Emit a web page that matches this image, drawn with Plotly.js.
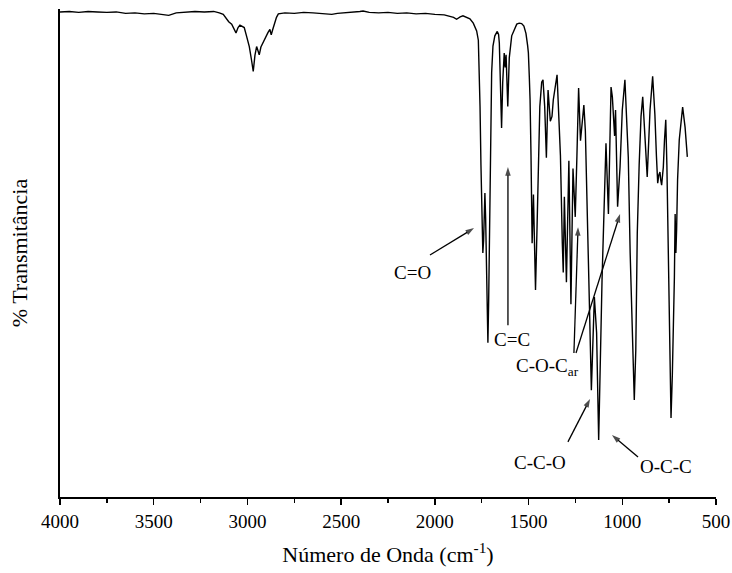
<!DOCTYPE html>
<html>
<head>
<meta charset="utf-8">
<script src="https://cdn.plot.ly/plotly-3.0.1.min.js"></script>
<style>html,body{margin:0;padding:0;background:#fff}#chart{width:732px;height:573px}</style>
</head>
<body>
<div id="chart"></div>
<script>
// Wavenumber (cm-1), descending
const waveNumber = [
4000,3950,3900,3850,3800,3750,3700,3650,3600,3550,3500,3450,3420,3380,3330,3280,3230,3180,3150,3129,
3100,3084,3061,3050,3040,3028,3017,3005,2990,2978,2969,2960,2951,2944,2937,2928,2919,2901,2890,2880,
2873,2865,2858,2845,2835,2800,2750,2700,2650,2600,2550,2520,2480,2440,2400,2383,2350,2300,2250,2200,
2150,2100,2050,2000,1950,1920,1900,1884,1865,1850,1830,1813,1795,1785,1777,1768,1763,1759,1754,1748,
1744,1740,1736,1733,1729,1725,1720,1717,1713,1709,1705,1700,1697,1690,1680,1667,1660,1656,1650,1644,
1638,1630,1625,1620,1611,1603,1590,1581,1563,1550,1537,1525,1514,1505,1501,1496,1492,1487,1481,1474,
1463,1455,1448,1440,1430,1423,1414,1405,1396,1384,1375,1368,1348,1340,1330,1320,1315,1309,1298,1285,
1274,1263,1251,1242,1233,1223,1205,1197,1190,1182,1176,1165,1149,1137,1126,1108,1087,1074,1060,1053,
1046,1041,1036,1030,1025,1012,1000,986,968,958,950,936,928,920,910,900,891,879,867,860,
852,838,826,818,811,805,799,795,790,785,781,775,768,762,758,749,740,733,728,722,
718,714,710,705,696,678,665,653
];
// % Transmittance (arbitrary units)
const transmittance = [
99.4,99.5,99.3,99.5,99.4,99.3,99.4,99.1,99.2,99.0,99.1,98.8,98.7,99.2,99.3,99.5,99.4,99.5,99.2,98.9,
97.4,96.9,95.1,96.2,96.7,96.5,96.2,94.5,92.3,89.5,87.2,90.5,92.3,91.5,90.6,92.2,93.0,94.3,95.2,95.8,
94.7,95.8,96.7,98.3,99.0,99.2,99.1,99.3,99.2,99.0,98.9,99.1,99.2,99.4,99.5,99.6,99.3,99.2,99.3,99.1,
99.2,99.0,99.1,98.9,98.8,98.5,98.3,97.9,98.4,98.6,98.3,98.0,97.1,96.3,95.5,93.6,88.0,80.0,68.0,54.0,
50.0,52.5,58.0,62.3,57.0,48.0,38.0,31.6,40.0,55.0,71.0,82.0,87.0,92.4,94.5,95.4,94.8,93.0,86.0,75.6,
85.0,91.0,88.0,90.6,80.0,90.0,94.5,95.2,96.9,97.1,97.0,96.5,95.0,92.5,91.0,86.0,81.4,70.0,52.0,62.0,
42.4,55.0,67.6,80.0,85.0,85.5,80.0,69.5,83.4,77.0,78.0,81.4,86.5,80.0,70.0,52.0,46.0,61.5,44.0,68.9,
39.5,67.3,57.4,70.0,83.8,73.0,80.3,75.0,62.0,45.0,40.4,21.9,41.0,33.6,11.7,44.5,72.5,58.0,84.0,82.0,
76.0,74.0,79.3,70.0,59.5,67.6,79.3,85.5,69.7,50.0,36.9,19.9,30.0,54.1,68.0,78.0,82.0,74.8,65.6,72.0,
79.3,86.2,78.3,70.0,64.3,66.0,66.6,65.0,63.9,66.0,67.6,73.0,77.3,68.0,58.8,33.6,16.2,25.0,33.6,45.0,
58.0,50.0,55.0,65.0,73.2,79.9,75.8,69.7
];
// x-axis ticks
const tickValues = [4000,3500,3000,2500,2000,1500,1000,500];
const tickLabels = ["4000","3500","3000","2500","2000","1500","1000","500"];

// Band labels: text position and arrow (tail -> head), in data units
const bandLabels = ["C=O","C=C","C-O-C<sub>ar</sub>","C-C-O","O-C-C"];
const labelX = [2117,1588,1578,1439,768];
const labelY = [46.1,32.2,26.6,7.0,6.2];
const labelAnchor = ["center","center","left","center","center"];
const arrowTailX = [2026,1610,1258,1247,1290,916];
const arrowTailY = [49.6,35.2,29.5,29.5,11.3,8.2];
const arrowHeadX = [1791,1610,1236,1012,1172,1055];
const arrowHeadY = [55.1,67.6,55.3,58.0,20.1,12.7];

const serif = "Liberation Serif";

const annotations = bandLabels.map((t,i)=>({x:labelX[i], y:labelY[i], xref:'x', yref:'y', text:t, showarrow:false,
    xanchor:labelAnchor[i], yanchor:'middle', font:{family:serif,size:19,color:'#000'}}));

const traces = [{x:waveNumber, y:transmittance, type:'scatter', mode:'lines',
  line:{color:'#000', width:1.4}, hoverinfo:'skip'}];

arrowTailX.forEach((tx,i)=>{
  traces.push({x:[tx, arrowHeadX[i]], y:[arrowTailY[i], arrowHeadY[i]], type:'scatter', mode:'lines+markers',
    line:{color:'#000', width:1.3}, hoverinfo:'skip',
    marker:{symbol:'arrow', angleref:'previous', size:[0,9], color:'#000', line:{width:0}}});
});

const layout = {
  width:732, height:573,
  margin:{l:60, r:16, t:9, b:76},
  paper_bgcolor:'#fff', plot_bgcolor:'#fff',
  font:{family:serif, color:'#000'},
  showlegend:false,
  xaxis:{range:[4000,500], tickvals:tickValues, ticktext:tickLabels,
    showgrid:false, zeroline:false, showline:true, linecolor:'#000', linewidth:1.8,
    ticks:'outside', ticklen:6, tickwidth:1.5, tickcolor:'#000',
    minor:{tickvals:[3750,3250,2750,2250,1750,1250,750], ticks:'outside', ticklen:4, tickwidth:1.3, tickcolor:'#000', showgrid:false},
    tickfont:{family:serif, size:19, color:'#000'},
    title:{text:'Número de Onda (cm<sup>-1</sup>)', font:{family:serif,size:22,color:'#000'}, standoff:16}},
  yaxis:{range:[0,100], showgrid:false, zeroline:false, showline:true, linecolor:'#000', linewidth:1.8,
    ticks:'', showticklabels:false,
    title:{text:'% Transmitância', font:{family:serif,size:22,color:'#000'}, standoff:24}},
  annotations:annotations
};
Plotly.newPlot('chart',traces,layout,{staticPlot:true, displayModeBar:false});
</script>
</body>
</html>
